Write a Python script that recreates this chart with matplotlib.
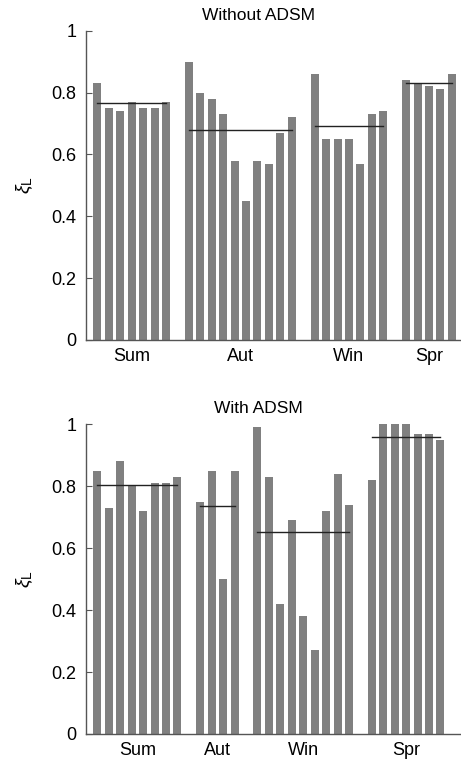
import numpy as np
import matplotlib
matplotlib.use("Agg")
import matplotlib.pyplot as plt

plt.rcParams["font.family"] = ["Liberation Sans", "DejaVu Sans"]
plt.rcParams["mathtext.fontset"] = "custom"
plt.rcParams["mathtext.rm"] = "Liberation Sans"
plt.rcParams["mathtext.it"] = "Liberation Sans:italic"

seasons = ["Sum", "Aut", "Win", "Spr"]

# xi_L without ADSM, one list per season
without_sum = [0.83, 0.75, 0.74, 0.77, 0.75, 0.75, 0.77]
without_aut = [0.90, 0.80, 0.78, 0.73, 0.58, 0.45, 0.58, 0.57, 0.67, 0.72]
without_win = [0.86, 0.65, 0.65, 0.65, 0.57, 0.73, 0.74]
without_spr = [0.84, 0.83, 0.82, 0.81, 0.86]

# xi_L with ADSM
with_sum = [0.85, 0.73, 0.88, 0.80, 0.72, 0.81, 0.81, 0.83]
with_aut = [0.75, 0.85, 0.50, 0.85]
with_win = [0.99, 0.83, 0.42, 0.69, 0.38, 0.27, 0.72, 0.84, 0.74]
with_spr = [0.82, 1.00, 1.00, 1.00, 0.97, 0.97, 0.95]

panels = [
    ("Without ADSM", [without_sum, without_aut, without_win, without_spr]),
    ("With ADSM", [with_sum, with_aut, with_win, with_spr]),
]

bar_col = "#808080"
spine_col = "#555555"

fig = plt.figure(figsize=(4.61, 7.65), dpi=100)
ax_top = fig.add_axes([86/461, 425/765, 375/461, 309.3/765])
ax_bot = fig.add_axes([86/461, 31/765, 375/461, 309.7/765])

for ax, (title, groups) in zip([ax_top, ax_bot], panels):
    pos = 1
    centers = []
    for vals in groups:
        x = np.arange(pos, pos + len(vals))
        ax.bar(x, vals, width=0.7, color=bar_col, edgecolor="none", zorder=1)
        # mean of the season as a flat line over its bars
        ax.plot([x[0], x[-1]], [np.mean(vals)] * 2, color="#222222", lw=1.0, zorder=2)
        centers.append(x.mean())
        pos += len(vals) + 1

    ax.set_xlim(0, 32.8)
    ax.set_ylim(0, 1)
    ax.set_xticks(centers)
    ax.set_xticklabels(seasons, fontsize=13)
    ax.set_yticks([0, 0.2, 0.4, 0.6, 0.8, 1])
    ax.set_yticklabels(["0", "0.2", "0.4", "0.6", "0.8", "1"], fontsize=13)
    ax.tick_params(axis="x", length=0, pad=6)
    ax.tick_params(axis="y", direction="in", length=4, width=0.8, color=spine_col, pad=7)
    for s in ["top", "right"]:
        ax.spines[s].set_visible(False)
    for s in ["left", "bottom"]:
        ax.spines[s].set_color(spine_col)
        ax.spines[s].set_linewidth(1.0)
    ax.set_ylabel(r"$\xi_{\mathrm{L}}$", fontsize=14)
    ax.yaxis.set_label_coords(-0.135, 0.5)
    ax.set_title(title, fontsize=12.5, x=0.46, pad=8)

plt.savefig("out.png", dpi=100)
